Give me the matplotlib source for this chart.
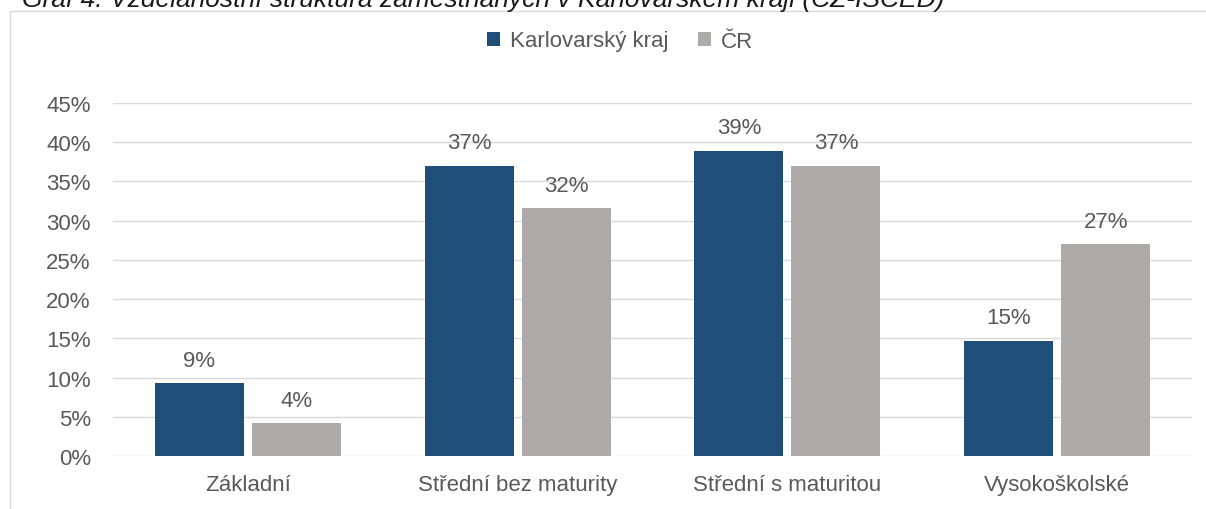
import matplotlib.pyplot as plt
import numpy as np
from matplotlib.patches import Rectangle

categories = ['Základní', 'Střední bez maturity', 'Střední s maturitou', 'Vysokoškolské']
karlovarsky = [9.3, 37.0, 38.9, 14.7]
cr = [4.2, 31.6, 37.0, 27.0]
series_names = ['Karlovarský kraj', 'ČR']
label_karlovarsky = ['9%', '37%', '39%', '15%']
label_cr = ['4%', '32%', '37%', '27%']

plt.rcParams['font.family'] = ['Liberation Sans', 'DejaVu Sans']
txt = '#595959'
fs = 16

fig = plt.figure(figsize=(12.06, 5.10), dpi=100)
ax = fig.add_axes([113/1206, 1 - 457/510, 1079/1206, 353/510])

x = np.arange(len(categories))
w = 0.33
b1 = ax.bar(x - w/2 - 0.015, karlovarsky, w, color='#1F4E79', label=series_names[0], zorder=3)
b2 = ax.bar(x + w/2 + 0.015, cr, w, color='#AEAAAA', label=series_names[1], zorder=3)
ax.bar_label(b1, labels=label_karlovarsky, padding=9, fontsize=fs, color=txt)
ax.bar_label(b2, labels=label_cr, padding=9, fontsize=fs, color=txt)

ax.set_xlim(-0.5, 3.5)
ax.set_ylim(0, 45)
ax.set_yticks(np.arange(0, 46, 5))
ax.set_yticklabels([f'{v}%' for v in range(0, 46, 5)])
ax.set_xticks(x)
ax.set_xticklabels(categories)
ax.tick_params(axis='both', length=0, labelsize=fs, labelcolor=txt)
ax.tick_params(axis='y', pad=16)
ax.tick_params(axis='x', pad=13)
ax.grid(axis='y', color='#D9D9D9', linewidth=1, zorder=0)
for s in ax.spines.values():
    s.set_visible(False)

leg = ax.legend(loc='center', ncol=2, frameon=False, fontsize=fs, labelcolor=txt,
                handlelength=0.6, handleheight=0.6, handletextpad=0.45, columnspacing=1.3)
leg.set_bbox_to_anchor((620/1206, 1 - 42/510), transform=fig.transFigure)

# chart frame
fig.patches.append(Rectangle((10/1206, -0.01), 1.2, 1 - 12/510 + 0.01, transform=fig.transFigure,
                             fill=False, edgecolor='#D9D9D9', linewidth=1))

# caption, cut off at the top edge like in the source
fig.text(22/1206, 1 - 7/510, 'Graf 4: Vzdělanostní struktura zaměstnaných v Karlovarském kraji (CZ-ISCED)',
         fontsize=19, style='italic', color='#1a1a1a', va='baseline', ha='left')

fig.savefig('out.png', dpi=100)
